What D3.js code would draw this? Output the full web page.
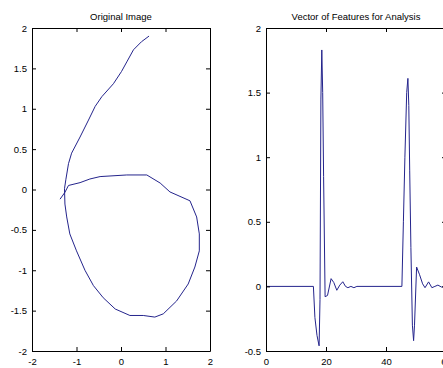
<!DOCTYPE html>
<html>
<head>
<meta charset="utf-8">
<script src="https://cdn.jsdelivr.net/npm/d3@7"></script>
<style>
  html, body { margin: 0; padding: 0; background: #fff; overflow: hidden; }
  svg { display: block; }
  text { font-family: "Liberation Sans", Arial, sans-serif; fill: #000; }
</style>
</head>
<body>
<svg id="chart" width="443" height="368"></svg>
<script>
// ---------- data ----------
const shapeX = [0.63, 0.46, 0.28, 0.13, 0.01, -0.17, -0.43, -0.58, -0.73, -0.92, -1.11, -1.18, -1.24, -1.27, -1.26, -1.22, -1.15, -1.0, -0.81, -0.62, -0.40, -0.13, 0.20, 0.50, 0.76, 0.95, 1.25, 1.51, 1.66, 1.76, 1.76, 1.70, 1.55, 1.10, 0.88, 0.58, 0.13, -0.47, -0.70, -0.92, -1.18, -1.26, -1.37];
const shapeY = [1.90, 1.83, 1.73, 1.58, 1.46, 1.31, 1.15, 1.03, 0.86, 0.65, 0.45, 0.32, 0.12, 0.01, -0.18, -0.34, -0.55, -0.76, -1.00, -1.19, -1.34, -1.48, -1.56, -1.56, -1.58, -1.54, -1.38, -1.17, -0.96, -0.76, -0.55, -0.34, -0.14, -0.03, 0.08, 0.18, 0.18, 0.16, 0.13, 0.085, 0.05, -0.035, -0.12];

const featureX = [0, 15.8, 16.3, 17.0, 17.7, 18.0, 18.3, 18.6, 18.9, 19.2, 19.7, 20.5, 21.7, 22.6, 23.6, 24.6, 25.6, 26.5, 27.3, 28.3, 29.3, 30.3, 45.3, 45.8, 46.3, 46.9, 47.3, 47.6, 47.9, 48.3, 48.8, 49.2, 49.5, 50.2, 51.2, 52.2, 53.0, 54.2, 55.3, 56.3, 57.3, 58.5, 60, 62];
const featureY = [0, 0, -0.24, -0.38, -0.46, -0.1, 1.45, 1.83, 1.5, 0.85, -0.08, -0.07, 0.06, 0.03, -0.03, 0.01, 0.036, 0.0, -0.01, 0.0, -0.01, 0, 0, 0.5, 1.0, 1.5, 1.61, 1.4, 0.9, 0.3, -0.3, -0.42, -0.3, 0.15, 0.09, 0.02, -0.01, 0.035, -0.01, 0.0, 0.01, -0.005, 0.0, 0.0];

const leftTicks = [-2, -1, 0, 1, 2];
const leftYTicks = [-2, -1.5, -1, -0.5, 0, 0.5, 1, 1.5, 2];
const rightXTicks = [0, 20, 40, 60];
const rightYTicks = [-0.5, 0, 0.5, 1, 1.5, 2];

const titles = ["Original Image", "Vector of Features for Analysis"];

// ---------- drawing ----------
const svg = d3.select("#chart");
const lineColor = "#24248c";
const fmt = d => String(d);

function panel(opts) {
  const { x0, x1, y0, y1, xDomain, yDomain, xTicks, yTicks, title, xs, ys, id } = opts;
  const x = d3.scaleLinear().domain(xDomain).range([x0, x1]);
  const y = d3.scaleLinear().domain(yDomain).range([y1, y0]);
  const g = svg.append("g");

  svg.append("clipPath").attr("id", id).append("rect")
    .attr("x", x0).attr("y", y0).attr("width", x1 - x0).attr("height", y1 - y0);

  const pts = xs.map((v, i) => [v, ys[i]]);
  g.append("path")
    .datum(pts)
    .attr("clip-path", `url(#${id})`)
    .attr("fill", "none")
    .attr("stroke", lineColor)
    .attr("stroke-width", 1)
    .attr("d", d3.line().x(d => x(d[0])).y(d => y(d[1])));

  const tl = 4;
  g.append("g").attr("transform", `translate(0,${y1})`)
    .call(d3.axisBottom(x).tickValues(xTicks).tickFormat(fmt).tickSizeInner(-tl).tickSizeOuter(0).tickPadding(7.5));
  g.append("g").attr("transform", `translate(0,${y0})`)
    .call(d3.axisTop(x).tickValues(xTicks).tickFormat("").tickSizeInner(-tl).tickSizeOuter(0));
  g.append("g").attr("transform", `translate(${x0},0)`)
    .call(d3.axisLeft(y).tickValues(yTicks).tickFormat(fmt).tickSizeInner(-tl).tickSizeOuter(0).tickPadding(5));
  g.append("g").attr("transform", `translate(${x1},0)`)
    .call(d3.axisRight(y).tickValues(yTicks).tickFormat("").tickSizeInner(-tl).tickSizeOuter(0));

  g.selectAll(".domain").attr("stroke", "#000");
  g.selectAll(".tick line").attr("stroke", "#000");
  g.selectAll(".tick text").style("font-size", "9.5px").attr("fill", "#000");

  g.append("text")
    .attr("x", (x0 + x1) / 2).attr("y", 19.5)
    .attr("text-anchor", "middle")
    .style("font-size", "9.5px")
    .text(title);
}

panel({ id: "c1", x0: 32, x1: 210, y0: 28, y1: 351, xDomain: [-2, 2], yDomain: [-2, 2],
  xTicks: leftTicks, yTicks: leftYTicks, title: titles[0], xs: shapeX, ys: shapeY });
panel({ id: "c2", x0: 266, x1: 446, y0: 28, y1: 351, xDomain: [0, 60], yDomain: [-0.5, 2],
  xTicks: rightXTicks, yTicks: rightYTicks, title: titles[1], xs: featureX, ys: featureY });
</script>
</body>
</html>
